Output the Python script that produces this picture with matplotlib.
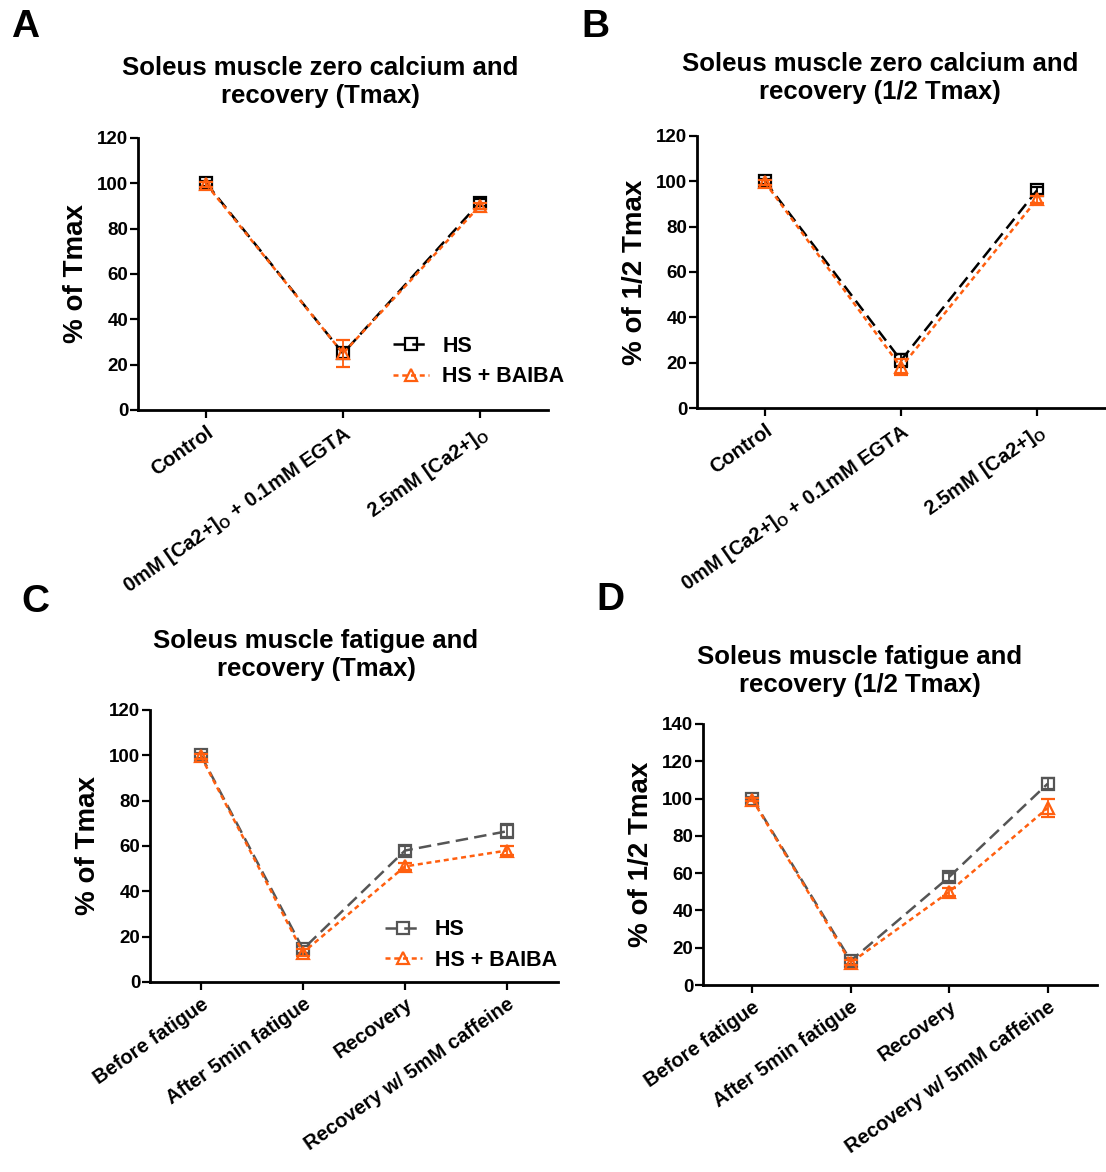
import matplotlib.pyplot as plt
from matplotlib.lines import Line2D

plt.rcParams['font.family'] = ['Liberation Sans', 'DejaVu Sans']
plt.rcParams['font.weight'] = 'bold'

# Panel A / B categories
calcium_labels = ["Control", "0mM [Ca2+]$_\\mathregular{O}$ + 0.1mM EGTA", "2.5mM [Ca2+]$_\\mathregular{O}$"]
# Panel C / D categories
fatigue_labels = ["Before fatigue", "After 5min fatigue", "Recovery", "Recovery w/ 5mM caffeine"]

# A: Tmax, zero calcium
a_hs = [100, 25, 91.5]
a_hs_err = [1, 2, 1.5]
a_baiba = [99.5, 25, 90]
a_baiba_err = [1, 6, 1.5]

# B: 1/2 Tmax, zero calcium
b_hs = [100, 21, 96]
b_hs_err = [1, 3, 1.5]
b_baiba = [99.5, 18, 92]
b_baiba_err = [1, 3.5, 1.5]

# C: Tmax, fatigue
c_hs = [100, 14.5, 58, 66.5]
c_hs_err = [1, 1.5, 2, 3]
c_baiba = [99.5, 13, 51, 58]
c_baiba_err = [1, 1.5, 1.5, 2]

# D: 1/2 Tmax, fatigue
d_hs = [100, 13, 58, 108]
d_hs_err = [1, 1.5, 2, 3]
d_baiba = [99.5, 12, 50, 95]
d_baiba_err = [1, 1.5, 2, 5]

orange = "#ff5f0f"
hs_ls = (0, (5, 2.5))
baiba_ls = (0, (2, 1.5))

W, H = 1106, 1172
fig = plt.figure(figsize=(W / 100, H / 100), dpi=100)


def add_axes(left, right, top, bottom):
    return fig.add_axes([left / W, 1 - bottom / H, (right - left) / W, (bottom - top) / H])


def draw(ax, labels, hs, hs_err, baiba, baiba_err, hs_color, ymax, ylabel, legend_pos):
    x = list(range(len(labels)))
    ax.errorbar(x, hs, yerr=hs_err, color=hs_color, linestyle=hs_ls, lw=1.8,
                marker='s', markersize=9, markerfacecolor='none', markeredgewidth=1.6,
                capsize=5, elinewidth=1.3, zorder=3)
    ax.errorbar(x, baiba, yerr=baiba_err, color=orange, linestyle=baiba_ls, lw=1.8,
                marker='^', markersize=8, markerfacecolor='none', markeredgewidth=1.6,
                capsize=5, elinewidth=1.3, zorder=4)
    ax.set_xlim(-0.5, len(labels) - 0.5)
    ax.set_ylim(0, ymax)
    ax.set_yticks(range(0, ymax + 1, 20))
    ax.set_xticks(x)
    ax.set_xticklabels(labels, rotation=35, ha='right', rotation_mode='anchor', fontsize=14.5)
    ax.tick_params(axis='y', labelsize=13.5, length=6, width=1.6, pad=1)
    ax.tick_params(axis='x', length=6, width=1.6, pad=3)
    for s in ['top', 'right']:
        ax.spines[s].set_visible(False)
    for s in ['left', 'bottom']:
        ax.spines[s].set_linewidth(2)
    ax.set_ylabel(ylabel, fontsize=20, fontweight='bold', labelpad=6)
    if legend_pos is not None:
        handles = [
            Line2D([], [], color=hs_color, linestyle=hs_ls, lw=1.8, marker='s', markersize=9,
                   markerfacecolor='none', markeredgewidth=1.6),
            Line2D([], [], color=orange, linestyle=baiba_ls, lw=1.8, marker='^', markersize=8,
                   markerfacecolor='none', markeredgewidth=1.6),
        ]
        ax.legend(handles, ["HS", "HS + BAIBA"], loc='upper left', bbox_to_anchor=legend_pos,
                  frameon=False, fontsize=15.5, handlelength=1.7, borderaxespad=0,
                  handletextpad=0.6, labelspacing=0.45)


ax_a = add_axes(138, 548, 138, 410)
draw(ax_a, calcium_labels, a_hs, a_hs_err, a_baiba, a_baiba_err, 'black', 120,
     "% of Tmax", (0.60, 0.305))
ax_b = add_axes(697, 1105, 136, 408)
draw(ax_b, calcium_labels, b_hs, b_hs_err, b_baiba, b_baiba_err, 'black', 120,
     "% of 1/2 Tmax", None)
ax_c = add_axes(150, 558, 710, 982)
draw(ax_c, fatigue_labels, c_hs, c_hs_err, c_baiba, c_baiba_err, '#555555', 120,
     "% of Tmax", (0.555, 0.262))
ax_d = add_axes(703, 1097, 724, 985)
draw(ax_d, fatigue_labels, d_hs, d_hs_err, d_baiba, d_baiba_err, '#555555', 140,
     "% of 1/2 Tmax", None)

titles = [
    ("Soleus muscle zero calcium and\nrecovery (Tmax)", 320, 82),
    ("Soleus muscle zero calcium and\nrecovery (1/2 Tmax)", 880, 78),
    ("Soleus muscle fatigue and\nrecovery (Tmax)", 316, 655),
    ("Soleus muscle fatigue and\nrecovery (1/2 Tmax)", 860, 671),
]
for text, x, y in titles:
    fig.text(x / W, 1 - y / H, text, ha='center', va='center', fontsize=18.5,
             fontweight='bold', linespacing=1.2)

for letter, x, y in [("A", 25, 27), ("B", 595, 27), ("C", 35, 602), ("D", 610, 600)]:
    fig.text(x / W, 1 - y / H, letter, ha='center', va='center', fontsize=28, fontweight='heavy')

plt.savefig("out.png", dpi=100)
